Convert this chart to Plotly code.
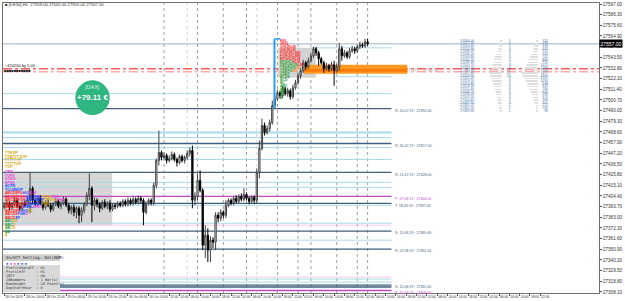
import plotly.graph_objects as go

# ---------------- candle data (H1 bars) ----------------
bar_no = list(range(142))
opens = [27393,27395,27397,27393,27396,27400,27394,27392,27397,27395,
         27400,27412,27400,27396,27402,27397,27393,27398,27395,27391,
         27396,27399,27394,27397,27401,27395,27390,27393,27388,27392,
         27385,27390,27396,27405,27412,27395,27400,27396,27392,27398,
         27394,27397,27391,27395,27394,27397,27395,27399,27396,27400,
         27397,27401,27398,27402,27400,27388,27397,27400,27398,27415,
         27440,27448,27443,27445,27440,27442,27446,27441,27438,27444,
         27440,27443,27447,27450,27400,27404,27420,27410,27355,27365,
         27350,27360,27358,27385,27382,27388,27385,27395,27400,27397,
         27402,27399,27404,27401,27406,27402,27399,27403,27400,27428,
         27452,27475,27468,27472,27478,27495,27502,27508,27505,27512,
         27507,27510,27504,27513,27518,27525,27530,27538,27534,27540,
         27545,27552,27548,27542,27538,27532,27535,27532,27536,27530,
         27534,27552,27545,27548,27544,27550,27552,27550,27554,27556,
         27555,27559]
highs = [27398,27400,27399,27398,27403,27402,27396,27399,27400,27403,
         27428,27414,27402,27404,27405,27399,27400,27401,27397,27398,
         27402,27401,27399,27404,27403,27397,27395,27396,27394,27394,
         27393,27398,27408,27427,27414,27403,27402,27398,27400,27401,
         27399,27400,27397,27397,27399,27399,27401,27401,27403,27402,
         27404,27403,27405,27404,27402,27399,27402,27402,27418,27442,
         27470,27450,27448,27447,27445,27449,27448,27443,27446,27446,
         27445,27450,27453,27455,27408,27427,27430,27412,27375,27372,
         27364,27363,27388,27388,27391,27390,27400,27402,27402,27404,
         27405,27406,27407,27412,27408,27404,27405,27405,27432,27460,
         27482,27478,27475,27481,27500,27505,27511,27510,27515,27514,
         27513,27512,27516,27521,27528,27533,27541,27540,27543,27548,
         27554,27554,27550,27544,27540,27538,27537,27539,27540,27537,
         27558,27555,27551,27550,27553,27555,27554,27556,27559,27558,
         27562,27562]
lows = [27391,27393,27390,27391,27394,27392,27389,27390,27393,27393,
        27387,27397,27394,27394,27395,27390,27391,27393,27388,27389,
        27394,27392,27391,27395,27393,27387,27386,27384,27382,27377,
        27378,27387,27394,27400,27378,27390,27393,27388,27390,27392,
        27391,27388,27389,27391,27392,27393,27393,27394,27394,27395,
        27395,27396,27396,27397,27375,27386,27395,27395,27395,27412,
        27435,27440,27441,27437,27438,27440,27439,27434,27436,27438,
        27437,27441,27444,27392,27395,27400,27408,27350,27342,27338,
        27338,27352,27350,27378,27379,27382,27382,27393,27395,27395,
        27397,27397,27399,27399,27400,27396,27397,27397,27397,27422,
        27450,27465,27466,27469,27476,27492,27500,27502,27503,27505,
        27504,27501,27502,27511,27516,27522,27528,27531,27532,27538,
        27543,27545,27535,27536,27528,27530,27529,27530,27515,27528,
        27530,27540,27543,27542,27542,27548,27547,27548,27552,27553,
        27553,27555]
closes = [27395,27397,27393,27396,27400,27394,27392,27397,27395,27400,
          27412,27400,27396,27402,27397,27393,27398,27395,27391,27396,
          27399,27394,27397,27401,27395,27390,27393,27388,27392,27385,
          27390,27396,27405,27412,27395,27400,27396,27392,27398,27394,
          27397,27391,27395,27394,27397,27395,27399,27396,27400,27397,
          27401,27398,27402,27400,27388,27397,27400,27398,27415,27440,
          27448,27443,27445,27440,27442,27446,27441,27438,27444,27440,
          27443,27447,27450,27400,27404,27420,27410,27355,27365,27350,
          27360,27358,27385,27382,27388,27385,27395,27400,27397,27402,
          27399,27404,27401,27406,27402,27399,27403,27400,27428,27452,
          27475,27468,27472,27478,27495,27502,27508,27505,27512,27507,
          27510,27504,27513,27518,27525,27530,27538,27534,27540,27545,
          27552,27548,27542,27538,27532,27535,27532,27536,27530,27534,
          27552,27545,27548,27544,27550,27552,27550,27554,27556,27555,
          27559,27557]

# ---------------- axis ticks ----------------
price_ticks = [27597.0,27586.3,27575.6,27564.9,27554.2,27543.5,27532.8,27522.1,
               27511.4,27500.7,27490.0,27479.3,27468.6,27457.9,27447.2,27436.5,
               27425.8,27415.1,27404.4,27393.7,27383.0,27372.3,27361.6,27350.9,
               27340.2,27329.5,27318.8,27308.1]
time_tick_bars = [0, 8, 16, 24, 32, 40, 48, 56,
                  64, 68, 72, 76, 80, 84, 88, 92, 96, 100, 104, 108, 112,
                  116, 120, 124, 128, 132, 136, 140, 144, 148, 152, 156, 160,
                  164, 168, 172, 176, 180, 184, 188, 192, 196, 200, 204, 208]
time_tick_labels = ["28 Oct 2019", "28 Oct 14:00", "28 Oct 22:00", "29 Oct 06:00",
                    "29 Oct 14:00", "29 Oct 22:00", "30 Oct 06:00", "30 Oct 14:00",
                    "22:00", "02:00", "06:00", "10:00", "14:00", "18:00", "22:00",
                    "02:00", "06:00", "10:00", "14:00", "18:00", "22:00",
                    "02:00", "06:00", "10:00", "14:00", "18:00", "22:00",
                    "02:00", "06:00", "10:00", "14:00", "18:00", "22:00",
                    "02:00", "06:00", "10:00", "14:00", "18:00", "22:00",
                    "02:00", "06:00", "10:00", "14:00", "18:00", "22:00"]

# ---------------- levels ----------------
current_price = 27557.0
level_tags = ["R", "R", "R", "P", "T", "S", "S", "S", "P"]
level_dates = ["24.07.19", "26.07.19", "21.07.19", "07.08.19", "18.09.19",
               "13.08.19", "22.08.19", "12.08.19", "15.08.19"]
level_prices = [27492, 27457, 27428, 27404, 27397, 27369, 27351, 27315, 27309.5]
extra_dark_levels = [27313]
light_levels = [27507, 27468, 27463, 27453, 27441, 27418, 27413, 27395, 27377, 27360, 27321, 27318]
light_levels_short = [27553, 27524]
pink_levels = [27375, 27323]
poc_red = 27532
poc_pink = 27529
value_area = [27527, 27536]
vline_bars = [62, 75, 85, 94, 106, 114, 119, 129, 137, 141]
vline_bars_light = [71, 98]

table_prices = [27560.0,27557.3,27554.6,27551.9,27549.2,27546.5,27543.8,27541.1,27538.4,
                27535.7,27533.0,27530.3,27527.6,27524.9,27522.2,27519.5,27516.8,27514.1,
                27511.4,27508.7,27506.0,27503.3,27500.6,27497.9,27495.2,27492.5,27489.8]
table_tpo = [1,2,2,3,4,5,6,7,7,8,9,10,11,10,9,8,7,6,6,5,4,4,3,3,2,2,1]
table_vol = [112,230,318,402,515,640,702,866,910,1021,1180,1322,1477,1390,1205,
             1094,948,812,760,655,530,470,366,301,215,190,96]

# ---------------- geometry helpers ----------------
W, H = 625, 301
ML, MR, MT, MB = 2, 17, 2, 8
PW, PH = W - ML - MR, H - MT - MB
X_RANGE = [-0.5, 230.8]
Y_RANGE = [27307, 27598]


def bx(px):
    return X_RANGE[0] + (px - ML) / PW * (X_RANGE[1] - X_RANGE[0])


def pxp(px):
    return (px - ML) / PW


def pyp(py):
    return (H - MB - py) / PH


DARK = "#41607e"
LIGHT = "#a9d9ec"
MAG = "#c24ac6"
PINK = "#f3cde6"
FONT = "Liberation Sans"

fig = go.Figure()

shapes = []
for b in vline_bars:
    shapes.append(dict(type="line", xref="x", yref="paper", x0=b, x1=b, y0=0, y1=1,
                       line=dict(color="#a0a0a0", width=1, dash="dot"), layer="below"))
for b in vline_bars_light:
    shapes.append(dict(type="line", xref="x", yref="paper", x0=b, x1=b, y0=0, y1=1,
                       line=dict(color="#d4d4d4", width=1, dash="dot"), layer="below"))

shapes.append(dict(type="rect", xref="x", yref="y", x0=bx(2), x1=bx(113),
                   y0=27375, y1=27428, fillcolor="#d6d6d6", line=dict(width=0), layer="below"))
shapes.append(dict(type="rect", xref="x", yref="y", x0=bx(282), x1=bx(320),
                   y0=27523, y1=27553, fillcolor="#d3d3d3", line=dict(width=0), layer="below"))
shapes.append(dict(type="rect", xref="x", yref="y", x0=bx(308), x1=bx(413),
                   y0=value_area[0], y1=value_area[1], fillcolor="#ff9a22", line=dict(width=0), layer="below"))
shapes.append(dict(type="rect", xref="x", yref="y", x0=bx(308), x1=bx(413),
                   y0=poc_pink, y1=poc_red, fillcolor="#ff7b00", line=dict(width=0), layer="below"))

lvl_end = bx(397)
for p in light_levels:
    shapes.append(dict(type="line", xref="x", yref="y", x0=X_RANGE[0], x1=lvl_end, y0=p, y1=p,
                       line=dict(color=LIGHT, width=2 if p == 27468 else 1), layer="below"))
shapes.append(dict(type="line", xref="x", yref="y", x0=bx(315), x1=lvl_end, y0=light_levels_short[0],
                   y1=light_levels_short[0], line=dict(color=LIGHT, width=1), layer="below"))
shapes.append(dict(type="line", xref="x", yref="y", x0=bx(340), x1=lvl_end, y0=light_levels_short[1],
                   y1=light_levels_short[1], line=dict(color=LIGHT, width=1), layer="below"))
for p in pink_levels:
    shapes.append(dict(type="line", xref="x", yref="y", x0=X_RANGE[0], x1=lvl_end, y0=p, y1=p,
                       line=dict(color=PINK, width=1), layer="below"))
for p, t in zip(level_prices, level_tags):
    shapes.append(dict(type="line", xref="x", yref="y", x0=X_RANGE[0], x1=lvl_end, y0=p, y1=p,
                       line=dict(color=MAG if t == "P" else DARK, width=1.3), layer="below"))
for p in extra_dark_levels:
    shapes.append(dict(type="line", xref="x", yref="y", x0=X_RANGE[0], x1=lvl_end, y0=p, y1=p,
                       line=dict(color=DARK, width=1.3), layer="below"))
shapes.append(dict(type="line", xref="paper", yref="y", x0=0, x1=1, y0=current_price, y1=current_price,
                   line=dict(color="#9fb2c5", width=1), layer="below"))
shapes.append(dict(type="line", xref="paper", yref="y", x0=0, x1=1, y0=poc_red, y1=poc_red,
                   line=dict(color="#ff5a5a", width=1.5, dash="dashdot"), layer="below"))
shapes.append(dict(type="line", xref="paper", yref="y", x0=0, x1=1, y0=poc_pink, y1=poc_pink,
                   line=dict(color="#ffaaaa", width=1.5, dash="dashdot"), layer="below"))
shapes.append(dict(type="line", xref="x", yref="y", x0=bx(278), x1=bx(278), y0=27492, y1=27562,
                   line=dict(color="#2a9df4", width=2)))
shapes.append(dict(type="line", xref="x", yref="y", x0=bx(278), x1=bx(284), y0=27562, y1=27562,
                   line=dict(color="#2a9df4", width=1.5)))
shapes.append(dict(type="circle", xref="paper", yref="paper", x0=pxp(76), x1=pxp(110),
                   y0=pyp(114), y1=pyp(80), fillcolor="#2fb57f", line=dict(color="#2fb57f", width=1)))
shapes.append(dict(type="rect", xref="paper", yref="paper", x0=pxp(2), x1=pxp(60),
                   y0=pyp(261), y1=pyp(254), fillcolor="#cfcfcf", line=dict(width=0)))
shapes.append(dict(type="rect", xref="paper", yref="paper", x0=pxp(2), x1=pxp(60),
                   y0=pyp(292), y1=pyp(265), fillcolor="#d9d9d9", line=dict(width=0)))

# ---------------- traces ----------------
fig.add_trace(go.Bar(orientation="h", y=table_prices, x=[t * 0.45 for t in table_tpo],
                     base=[bx(509) - t * 0.45 for t in table_tpo], width=0.6,
                     marker=dict(color="#dedede", line=dict(width=0)), hoverinfo="skip", showlegend=False))
fig.add_trace(go.Bar(orientation="h", y=table_prices, x=[v / 1477 * 6.5 for v in table_vol],
                     base=[bx(546) - v / 1477 * 6.5 for v in table_vol], width=0.6,
                     marker=dict(color="#dedede", line=dict(width=0)), hoverinfo="skip", showlegend=False))
fig.add_trace(go.Candlestick(
    x=bar_no, open=opens, high=highs, low=lows, close=closes,
    increasing=dict(line=dict(color="#404040", width=1), fillcolor="#ffffff"),
    decreasing=dict(line=dict(color="#000000", width=1), fillcolor="#000000"),
    whiskerwidth=0, hoverinfo="skip", showlegend=False))

TBL = "#4a78a8"
fig.add_trace(go.Scatter(x=[bx(467)] * len(table_prices), y=table_prices, mode="text",
                         text=[f"{p:.2f}" for p in table_prices], textposition="middle right",
                         textfont=dict(size=3.3, color=TBL, family=FONT), hoverinfo="skip", showlegend=False))
fig.add_trace(go.Scatter(x=[bx(518)] * len(table_prices), y=table_prices, mode="text",
                         text=[str(t) for t in table_tpo], textposition="middle left",
                         textfont=dict(size=3.3, color=TBL, family=FONT), hoverinfo="skip", showlegend=False))
fig.add_trace(go.Scatter(x=[bx(556)] * len(table_prices), y=table_prices, mode="text",
                         text=[str(v) for v in table_vol], textposition="middle left",
                         textfont=dict(size=3.3, color=TBL, family=FONT), hoverinfo="skip", showlegend=False))

# ---------------- annotations ----------------
ann = []


def txt(x, y, text, size=4.6, color="#222", xanchor="left", xref="paper", yref="paper", **kw):
    ann.append(dict(x=x, y=y, xref=xref, yref=yref, text=text, showarrow=False, xanchor=xanchor,
                    yanchor="middle", font=dict(size=size, color=color, family=kw.pop("family", FONT)),
                    borderpad=0, **kw))


txt(pxp(3), pyp(4), "■ [DE30],H1  27559.00 27562.00 27555.00 27557.00", size=4.2, color="#333")
txt(pxp(3), pyp(64.5), "~424200 by 5.00", size=4.0, color="#111")
txt(pxp(2), pyp(70), "■■■■■■■■■■■", size=4.0, color="#111")
txt(pxp(93), pyp(86), "[DAX]", size=5.5, color="#d5f5e5", xanchor="center")
txt(pxp(93), pyp(97), "<b>+79.11 €</b>", size=8, color="#ffffff", xanchor="center")

for p, t, d in zip(level_prices, level_tags, level_dates):
    txt(bx(400), p - 2.2, f"{t}: {d} : {p:.2f}", size=3.6, color=MAG if t == "P" else DARK,
        xref="x", yref="y")
txt(bx(414), 27531, "Σ 1477 : 27531.50", size=3.6, color="#999", xref="x", yref="y")

ann.append(dict(x=1.0, y=current_price, xref="paper", yref="y", text="27557.00", showarrow=False,
                xanchor="left", yanchor="middle", bgcolor="#000000", borderpad=0.5,
                font=dict(size=5.0, color="#ffffff", family=FONT)))

Y, M, B, R, G, O = "#d9a600", "#e23ee0", "#2a3cff", "#ff2222", "#1f9f2f", "#ff8000"
left_rows = [
    (153, [("TTB RP", Y)]), (156.5, [("TTBTTT XOP", Y)]), (160, [("TTTTT XP", Y)]),
    (163.5, [("TTTTTOP", Y)]), (167, [("TOP", Y)]), (172, [("OPR", M)]), (175.5, [("TOPX", M)]),
    (179, [("SONO", M)]), (182.5, [("RPNS", M)]), (186, [("ACPN", B)]), (189.5, [("TCLMNOP", B)]),
    (193, [("ABCDEFG", R), ("HIJ", B), ("KLM", M)]),
    (196.5, [("ABCDEFGH", R), ("IJKLMNO", B), ("PQRS", Y), ("TUV", M)]),
    (200, [("ABCDEFGH", R), ("IJKLMNOP", B), ("QRSTU", Y), ("VWX", M)]),
    (203.5, [("ABCDEFGHI", R), ("JKLMNO", B), ("PQR", Y)]),
    (207, [("ABCDEFG", R), ("HIJKL", B), ("MNO", M)]),
    (210.5, [("ABCDEF", R), ("GHIJ", B), ("KL", Y)]),
    (214, [("ABCDE", R), ("FGH", B), ("IJ", M)]), (217.5, [("ABCD", R), ("EF", B)]),
    (221, [("ABC", G), ("DE", Y)]), (224.5, [("ABC", G), ("D", Y)]), (228, [("AB", G), ("CD", Y)]),
    (231.5, [("AB", G)]), (235, [("A", Y)]),
]
for py, segs in left_rows:
    html = "".join(f"<span style='color:{c}'>{s}</span>" for s, c in segs)
    txt(pxp(3), pyp(py), f"<b>{html}</b>", size=3.6)

right_rows = [
    (40, [("KKL", R)]), (43, [("JKKL", R)]), (46, [("GHIJKLM", R)]), (49, [("GHIJKLM", R)]),
    (52, [("FGHIJKLMN", R)]), (55, [("FGHIJKLMN", R)]), (58, [("EFGHIJKLM", R)]),
    (61, [("EFGHIJ", G), ("KLM", R)]), (64, [("DEFGHIJK", G), ("LM", R)]),
    (67, [("CDEFGHI", G), ("JK", O)]), (70, [("CDEFG", G), ("HIJ", O)]), (73, [("CDEF", G)]),
    (76, [("BCDE", G)]), (79, [("BCD", G)]), (82, [("BC", G)]), (85, [("ABC", G)]),
    (88, [("AB", G)]), (91, [("AB", G)]), (94, [("A", G)]), (97, [("A", G)]),
]
for py, segs in right_rows:
    html = "".join(f"<span style='color:{c}'>{s}</span>" for s, c in segs)
    txt(pxp(283), pyp(py), f"<b>{html}</b>", size=3.5)

MONO = "DejaVu Sans Mono"
NB = "\u00a0"
txt(pxp(4), pyp(257.5), f"On/Off{NB}Setting:{NB}Del(NUM)", size=4.0, color="#222", family=MONO)
txt(pxp(4), pyp(263), f"<span style='color:#2b55ff'>●</span>{NB}<span style='color:#ff3fbf'>●</span>{NB}"
    f"<span style='color:#ff3fbf'>●</span>{NB}<span style='color:#2b55ff'>●</span>{NB}"
    f"<span style='color:#2b55ff'>●</span>{NB}<span style='color:#2b55ff'>●</span>", size=4.2)
panel_rows = [("ProfileDataTF", "H1"), ("ProfileTF", "H1"), ("IBTF", "H4"),
              ("IBNumbers", "1 Bar(s)"), ("RowHeight", "10 Point(s)"), ("DayStartHour", "0")]
for k, (name, val) in enumerate(panel_rows):
    line = name.ljust(14).replace(" ", NB) + ":" + NB + val.replace(" ", NB)
    txt(pxp(4), pyp(267.5 + k * 4.1), line, size=3.6, color="#333", family=MONO)

fig.update_layout(
    width=W, height=H, margin=dict(l=ML, r=MR, t=MT, b=MB, pad=0),
    paper_bgcolor="#ffffff", plot_bgcolor="#ffffff", showlegend=False,
    shapes=shapes, annotations=ann, hovermode=False, barmode="overlay",
)
fig.update_xaxes(range=X_RANGE, rangeslider=dict(visible=False), showgrid=False, zeroline=False,
                 tickmode="array", tickvals=time_tick_bars, ticktext=time_tick_labels, tickangle=0,
                 ticks="outside", ticklen=2, tickcolor="#555", ticklabelposition="outside right",
                 tickfont=dict(size=3.2, color="#222", family=FONT),
                 showline=True, linecolor="#707070", linewidth=1, mirror=True, fixedrange=True)
fig.update_yaxes(range=Y_RANGE, side="right", showgrid=False, zeroline=False,
                 tickmode="array", tickvals=price_ticks, ticktext=[f"{v:.2f}" for v in price_ticks],
                 ticks="outside", ticklen=2, tickcolor="#555",
                 tickfont=dict(size=4.6, color="#333", family=FONT),
                 showline=True, linecolor="#707070", linewidth=1, mirror=True, fixedrange=True)

fig.write_html("out.html")
